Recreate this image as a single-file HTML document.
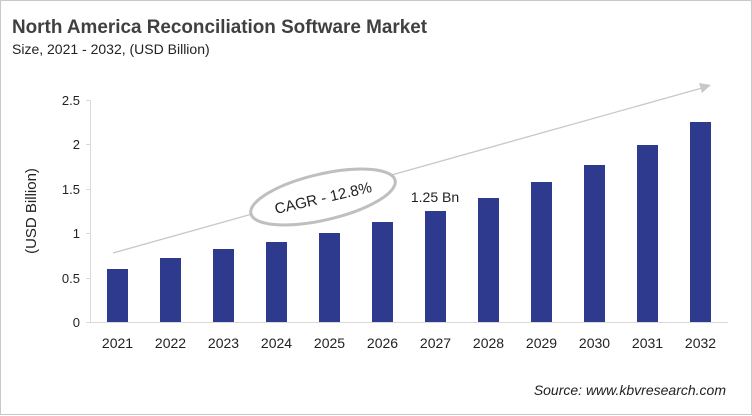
<!DOCTYPE html>
<html><head><meta charset="utf-8"><style>
html,body{margin:0;padding:0;background:#fff}
svg{display:block}
text{font-family:"Liberation Sans",sans-serif}
</style></head><body>
<svg width="752" height="416" viewBox="0 0 752 416" xmlns="http://www.w3.org/2000/svg">
<rect x="0.5" y="0.5" width="751" height="414" fill="#fff" stroke="#c8c8c8"/>
<text x="12" y="33" font-size="19" font-weight="bold" fill="#404040" textLength="415" lengthAdjust="spacingAndGlyphs">North America Reconciliation Software Market</text>
<text x="12" y="54" font-size="14" fill="#222">Size, 2021 - 2032, (USD Billion)</text>
<text transform="translate(36,211) rotate(-90)" text-anchor="middle" font-size="15" fill="#222">(USD Billion)</text>
<g stroke="#d9d9d9" stroke-width="1">
<line x1="90.5" y1="100" x2="90.5" y2="322"/>
<line x1="90" y1="322.5" x2="728" y2="322.5"/>
<line x1="86" y1="100.5" x2="90" y2="100.5"/>
<line x1="86" y1="144.5" x2="90" y2="144.5"/>
<line x1="86" y1="189.5" x2="90" y2="189.5"/>
<line x1="86" y1="233.5" x2="90" y2="233.5"/>
<line x1="86" y1="278.5" x2="90" y2="278.5"/>
<line x1="86" y1="322.5" x2="90" y2="322.5"/>
</g>
<g font-size="13" fill="#222" text-anchor="end">
<text x="80" y="105">2.5</text><text x="80" y="149">2</text><text x="80" y="194">1.5</text>
<text x="80" y="238">1</text><text x="80" y="283">0.5</text><text x="80" y="327">0</text>
</g>
<line x1="113" y1="253" x2="702" y2="88" stroke="#c8c8c8" stroke-width="1.3"/>
<polygon points="711,85 699,83 702,93" fill="#c8c8c8"/>
<g fill="#2e3a8e">
<rect x="107" y="269" width="21" height="53"/>
<rect x="160" y="258" width="21" height="64"/>
<rect x="213" y="249" width="21" height="73"/>
<rect x="266" y="242" width="21" height="80"/>
<rect x="319" y="233" width="21" height="89"/>
<rect x="372" y="222" width="21" height="100"/>
<rect x="425" y="211" width="21" height="111"/>
<rect x="478" y="198" width="21" height="124"/>
<rect x="531" y="182" width="21" height="140"/>
<rect x="584" y="165" width="21" height="157"/>
<rect x="637" y="145" width="21" height="177"/>
<rect x="690" y="122" width="21" height="200"/>
</g>
<g font-size="14" fill="#222" text-anchor="middle">
<text x="117.5" y="348">2021</text><text x="170.5" y="348">2022</text><text x="223.5" y="348">2023</text>
<text x="276.5" y="348">2024</text><text x="329.5" y="348">2025</text><text x="382.5" y="348">2026</text>
<text x="435.5" y="348">2027</text><text x="488.5" y="348">2028</text><text x="541.5" y="348">2029</text>
<text x="594.5" y="348">2030</text><text x="647.5" y="348">2031</text><text x="700.5" y="348">2032</text>
</g>
<text x="435" y="202" font-size="14" fill="#222" text-anchor="middle">1.25 Bn</text>
<ellipse cx="323" cy="197" rx="74" ry="23" transform="rotate(-13 323 197)" fill="#fff" stroke="#bfbfbf" stroke-width="3"/>
<text x="323" y="203" font-size="15" fill="#222" text-anchor="middle" transform="rotate(-13 323 197)">CAGR - 12.8%</text>
<text x="726" y="395" font-size="14" font-style="italic" fill="#222" text-anchor="end">Source: www.kbvresearch.com</text>
</svg>
</body></html>
